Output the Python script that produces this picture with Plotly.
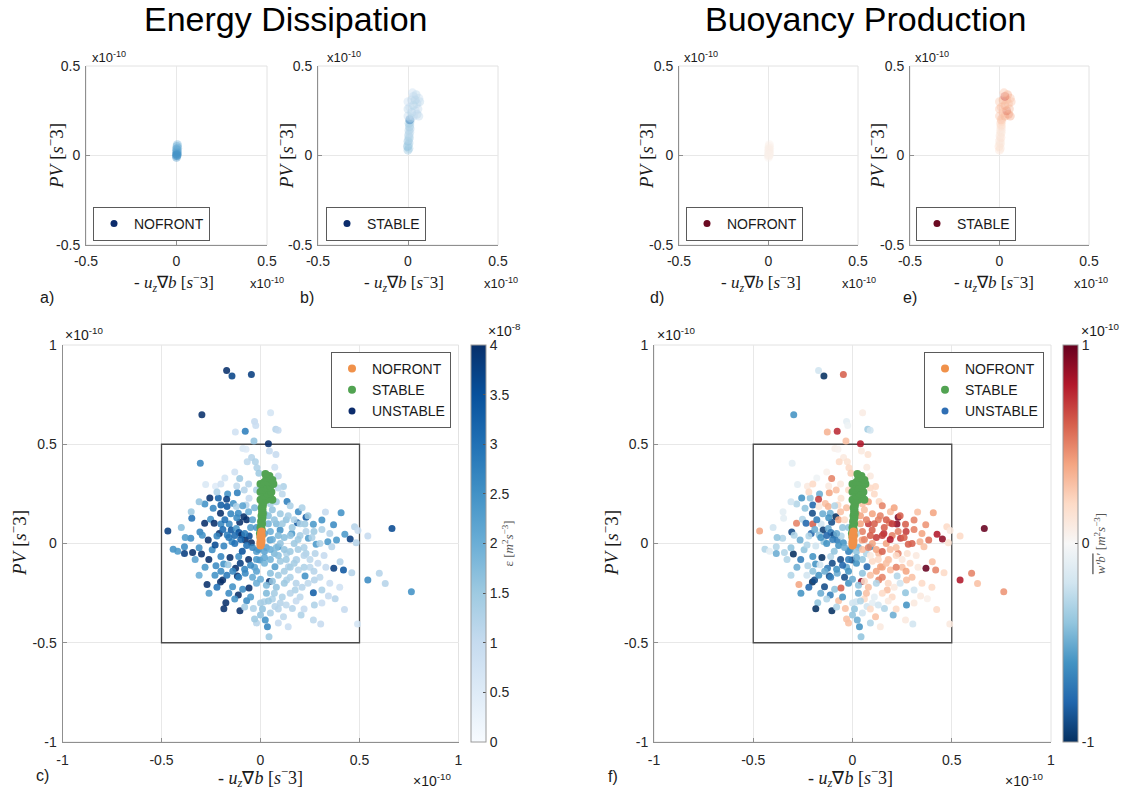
import plotly.graph_objects as go
import plotly.express as px

W, H = 1142, 792
SANS = "Liberation Sans, Arial, sans-serif"
SERIF = "Liberation Serif, Times New Roman, serif"

# ---------------- data (x, y in units of 1e-10 s^-3; eps in 1e-8; wb in 1e-10) -------------
unstable_x = [
    -0.171, -0.144, -0.046, -0.296, 0.051, -0.030, -0.024, 0.077, 0.089, -0.077,
    -0.127, -0.033, 0.040, 0.045, -0.089, -0.073, 0.078, -0.045, -0.067, -0.304,
    -0.026, 0.072, -0.018, -0.008, -0.105, -0.277, -0.227, 0.116, -0.082, -0.166,
    -0.117, -0.256, -0.213, -0.171, -0.281, -0.200, -0.137, -0.058, -0.073, 0.134,
    -0.239, -0.202, -0.169, -0.122, -0.112, -0.084, -0.070, -0.105, -0.347, -0.282,
    -0.252, -0.234, -0.200, -0.158, -0.148, -0.122, -0.109, -0.095, -0.468, -0.306,
    -0.294, -0.352, -0.264, -0.208, -0.220, -0.168, -0.144, -0.077, -0.057, -0.046,
    -0.441, -0.418, -0.384, -0.384, -0.343, -0.298, -0.310, -0.244, -0.229, -0.185,
    -0.154, -0.200, -0.110, -0.092, -0.060, -0.261, -0.225, -0.186, -0.164, -0.126,
    -0.102, -0.077, -0.117, -0.270, -0.202, -0.191, -0.141, -0.090, -0.058, -0.112,
    -0.070, -0.175, -0.185, -0.104, -0.036, 0.018, 0.024, 0.035, 0.043, 0.191,
    0.230, 0.186, 0.224, 0.267, 0.310, 0.328, 0.407, 0.369, 0.475, 0.492,
    0.542, 0.664, 0.426, 0.453, 0.483, 0.340, 0.384, 0.360, 0.281, 0.242,
    0.158, 0.099, 0.048, 0.090, 0.132, 0.183, 0.230, 0.276, 0.321, 0.402,
    0.370, 0.419, 0.461, 0.542, 0.600, 0.630, 0.762, 0.225, 0.272, 0.267,
    0.310, 0.343, 0.377, 0.272, 0.424, 0.490, 0.045, 0.205, 0.267, 0.304,
    0.116, 0.161, 0.073, 0.175, 0.132, 0.073, -0.003, 0.141, 0.191, 0.020,
    0.060, 0.100, 0.080, 0.130, 0.160, 0.050, 0.120, 0.170, 0.030, 0.070,
    0.100, 0.200, 0.220, -0.020, -0.030, 0.020, 0.050, 0.100, 0.150, 0.120,
    0.080, 0.030, -0.020, -0.040, 0.000, 0.060, 0.100, 0.200, 0.180, -0.050,
    0.040, -0.030, 0.080, 0.110, -0.060, 0.090, -0.130, -0.180, -0.200, 0.150,
    -0.080, 0.250, 0.300, 0.270, -0.080, -0.130, -0.050, 0.000, -0.020,
    0.01, 0.04, 0.07, 0.11, 0.14, 0.17, 0.20, 0.23, 0.26, 0.19,
    0.15, 0.09, 0.06, 0.02, -0.02, -0.04, -0.06, -0.09, -0.12, -0.15,
    -0.18, -0.19, -0.16, -0.13, -0.10, -0.07, -0.04, -0.01, 0.02, 0.05,
    0.08, 0.12, 0.15, 0.19, 0.22, 0.25, 0.29, 0.33, 0.30, 0.27,
    0.22, 0.17, 0.13, 0.09, 0.05, 0.02, -0.02, -0.05, -0.08, -0.11,
    -0.14, -0.17, -0.20, -0.23, -0.16, -0.13, -0.02, 0.00, 0.03, 0.06,
    0.09, 0.12, 0.15, 0.18, 0.21, 0.24, 0.15, 0.11, 0.07, 0.04,
    0.01, 0.05, 0.09, 0.13, 0.18, 0.22, 0.09, 0.14, -0.03, 0.35,
    0.31, 0.40, 0.35, 0.31, 0.24, 0.21, 0.05, 0.09, -0.02, -0.12,
    -0.22, -0.31, -0.35, -0.40, -0.38, -0.33, -0.28, -0.31, -0.26, -0.22,
]
unstable_y = [
    0.871, 0.844, 0.851, 0.648, 0.659, 0.614, 0.594, 0.575, 0.570, 0.565,
    0.562, 0.517, 0.502, 0.466, 0.478, 0.475, 0.448, 0.433, 0.412, 0.404,
    0.412, 0.384, 0.381, 0.354, 0.328, 0.297, 0.288, 0.287, 0.270, 0.249,
    0.256, 0.229, 0.229, 0.223, 0.199, 0.194, 0.202, 0.228, 0.194, 0.211,
    0.177, 0.152, 0.186, 0.186, 0.152, 0.135, 0.120, 0.107, 0.127, 0.102,
    0.122, 0.102, 0.098, 0.098, 0.068, 0.076, 0.055, 0.043, 0.063, 0.058,
    0.041, 0.026, 0.018, 0.051, 0.038, 0.043, 0.009, 0.018, 0.038, 0.004,
    -0.029, -0.039, -0.016, -0.050, -0.045, -0.053, -0.021, -0.031, -0.008, -0.013,
    -0.070, -0.066, -0.066, -0.039, -0.080, -0.080, -0.112, -0.103, -0.107, -0.125,
    -0.100, -0.150, -0.164, -0.206, -0.194, -0.184, -0.218, -0.231, -0.224, -0.260,
    -0.288, -0.298, -0.329, -0.339, -0.327, -0.293, -0.386, -0.419, -0.470, 0.160,
    0.132, 0.105, 0.098, 0.097, 0.118, 0.159, 0.155, 0.095, 0.085, 0.065,
    0.038, 0.076, 0.046, 0.023, 0.004, 0.009, 0.018, -0.016, -0.004, 0.026,
    0.051, 0.068, 0.018, -0.016, -0.050, -0.083, -0.050, -0.050, -0.061, -0.092,
    -0.125, -0.134, -0.147, -0.184, -0.150, -0.201, -0.243, -0.164, -0.184, -0.248,
    -0.234, -0.265, -0.278, -0.310, -0.332, -0.406, -0.192, -0.360, -0.386, -0.406,
    -0.369, -0.327, -0.318, -0.234, -0.184, -0.117, -0.083, -0.117, -0.134, 0.150,
    0.170, 0.150, 0.100, 0.120, 0.080, 0.060, 0.030, 0.000, -0.020, -0.050,
    0.000, 0.040, -0.020, -0.040, -0.120, -0.100, -0.150, -0.090, -0.120, -0.200,
    -0.220, -0.250, -0.200, -0.170, -0.300, -0.280, -0.300, -0.270, -0.080, 0.080,
    0.100, 0.180, 0.210, 0.250, 0.300, 0.340, 0.360, 0.330, 0.300, 0.190,
    -0.320, -0.120, 0.000, 0.060, 0.050, 0.000, -0.270, -0.360, -0.400,
    0.12, 0.14, 0.12, 0.10, 0.14, 0.12, 0.10, 0.06, 0.03, 0.02,
    0.04, 0.04, 0.02, 0.05, 0.08, 0.12, 0.16, 0.19, 0.13, 0.15,
    0.12, 0.07, 0.03, 0.04, 0.02, -0.01, -0.02, -0.03, -0.04, -0.03,
    -0.02, -0.03, -0.04, -0.03, -0.06, -0.08, -0.10, -0.12, -0.17, -0.14,
    -0.12, -0.10, -0.08, -0.06, -0.08, -0.07, -0.08, -0.11, -0.13, -0.17,
    -0.14, -0.16, -0.14, -0.16, -0.25, -0.28, -0.14, -0.18, -0.21, -0.19,
    -0.16, -0.14, -0.17, -0.20, -0.22, -0.20, -0.25, -0.27, -0.25, -0.29,
    -0.33, -0.35, -0.33, -0.31, -0.29, -0.33, -0.40, -0.42, -0.38, -0.20,
    -0.30, -0.22, 0.05, 0.07, 0.14, 0.18, 0.20, 0.28, 0.27, 0.29,
    0.26, 0.21, 0.16, 0.08, 0.03, -0.08, -0.12, -0.16, -0.25, -0.22,
]
unstable_eps = [
    4.0, 3.7, 3.8, 4.0, 0.7, 1.0, 0.9, 1.2, 1.0, 2.8,
    0.8, 1.6, 4.0, 1.0, 0.6, 0.5, 1.0, 1.2, 1.1, 2.7,
    1.3, 0.8, 1.3, 1.5, 1.5, 0.6, 0.5, 1.3, 1.2, 2.5,
    2.8, 4.0, 3.2, 3.8, 2.5, 3.3, 2.5, 1.0, 1.2, 2.8,
    2.7, 4.0, 3.4, 1.3, 2.6, 4.0, 4.0, 4.0, 3.0, 4.0,
    2.5, 4.0, 2.7, 2.6, 3.4, 2.4, 3.5, 4.0, 3.8, 2.7,
    2.5, 2.6, 4.0, 4.0, 2.7, 2.8, 2.6, 4.0, 3.6, 4.0,
    2.5, 2.4, 2.6, 3.8, 4.0, 4.0, 2.5, 2.6, 3.6, 2.7,
    4.0, 2.7, 2.5, 3.5, 4.0, 4.0, 2.6, 2.5, 1.5, 4.0,
    3.8, 2.6, 4.0, 4.0, 4.0, 4.0, 2.5, 2.6, 4.0, 4.0,
    2.6, 4.0, 4.0, 4.0, 1.3, 1.3, 2.5, 2.7, 1.5, 2.6,
    3.4, 3.5, 1.5, 2.4, 2.5, 1.0, 2.5, 2.6, 1.2, 1.0,
    1.0, 3.6, 2.4, 3.8, 1.2, 2.4, 2.4, 1.2, 2.4, 2.3,
    2.4, 2.5, 2.4, 2.4, 1.3, 1.2, 1.3, 1.2, 1.0, 1.2,
    3.8, 3.4, 1.2, 2.6, 1.2, 1.2, 2.5, 2.5, 1.2, 3.3,
    1.3, 1.0, 1.2, 1.3, 1.0, 0.7, 4.0, 1.3, 1.1, 1.0,
    1.1, 1.2, 1.2, 1.3, 1.3, 2.3, 2.4, 1.2, 1.2, 1.8,
    1.6, 1.5, 1.8, 1.6, 1.5, 2.0, 1.7, 1.5, 2.2, 1.8,
    1.6, 1.4, 1.3, 2.3, 2.2, 1.9, 1.7, 1.5, 1.4, 1.5,
    1.6, 1.8, 2.0, 2.1, 1.4, 1.3, 1.2, 1.1, 1.2, 2.3,
    1.9, 1.8, 1.4, 1.1, 1.2, 1.0, 0.8, 0.7, 0.8, 1.3,
    1.4, 1.1, 1.3, 1.5, 2.8, 3.0, 2.4, 1.6, 1.2,
    2.0, 1.7, 1.6, 1.5, 1.4, 1.3, 1.4, 1.2, 1.3, 1.5,
    1.6, 1.8, 2.0, 2.3, 2.4, 2.2, 2.0, 2.2, 2.6, 2.7,
    3.0, 3.1, 2.9, 3.1, 3.2, 3.0, 2.7, 2.5, 2.2, 2.0,
    1.8, 1.6, 1.5, 1.4, 1.2, 1.1, 1.0, 1.0, 1.1, 1.2,
    1.3, 1.4, 1.5, 1.7, 1.9, 2.1, 2.4, 2.6, 2.7, 2.8,
    2.7, 2.9, 2.6, 2.5, 2.6, 2.5, 2.2, 2.0, 1.8, 1.6,
    1.5, 1.4, 1.3, 1.2, 1.2, 1.1, 1.2, 1.3, 1.4, 1.5,
    1.6, 1.3, 1.2, 1.1, 1.0, 1.0, 1.0, 0.9, 1.5, 0.9,
    0.9, 0.8, 1.2, 1.3, 1.5, 1.3, 1.4, 1.1, 1.3, 1.1,
    1.3, 1.6, 1.5, 1.7, 2.3, 2.2, 2.4, 2.0, 2.3, 3.0,
]
unstable_wb = [
    -0.2, -1.0, 0.6, -0.6, 0.08, -0.1, -0.05, -0.35, -0.2, 0.75,
    0.35, 0.3, 0.8, 0.1, 0.05, 0.03, 0.15, 0.1, 0.2, -0.1,
    0.15, 0.1, 0.2, 0.25, 0.5, -0.1, 0.1, 0.2, 0.3, -0.5,
    0.4, -0.6, -0.4, 0.7, -0.3, -0.8, 0.3, 0.15, 0.2, 0.2,
    -0.4, -0.9, 0.1, 0.35, -0.5, -1.0, 0.4, -0.9, -0.1, 0.5,
    -0.3, -0.8, 0.6, -0.2, -0.95, -0.5, -0.7, -0.9, 0.4, -0.9,
    -0.3, -0.3, -0.5, -0.8, -0.3, -0.4, -0.4, -0.7, -0.3, -0.6,
    -0.3, -0.1, -0.3, -0.5, -0.3, -1.0, -0.4, -0.4, -0.3, -0.2,
    -1.0, -0.6, -0.3, -0.4, -0.9, -0.7, -0.3, -0.6, -0.2, -0.7,
    -0.9, -0.5, -0.9, 0.4, -1.0, -0.9, -0.9, -0.4, 0.6, -0.7,
    0.3, -0.4, -1.0, -1.0, 0.3, -0.2, -0.5, -0.6, -0.4, 0.3,
    0.95, 0.5, 0.9, 0.6, 0.5, 0.3, 0.4, 0.45, 0.2, 0.1,
    0.2, 1.0, 0.8, 0.9, 0.15, 0.35, 0.55, 0.3, 0.6, 0.7,
    0.75, 0.6, 0.4, -0.6, 0.3, 0.2, 0.5, 0.15, 0.1, 0.3,
    1.0, 0.5, 0.2, 0.8, 0.5, 0.3, 0.45, -0.3, 0.3, -0.4,
    -0.2, 0.1, 0.05, -0.6, 0.2, 0.1, 0.9, -0.5, 0.1, -0.2,
    0.3, -0.3, -0.2, 0.3, 0.5, -0.8, -0.9, 0.4, 0.3, 0.5,
    0.3, 0.4, 0.7, 0.5, 0.6, 0.5, 0.7, 0.4, -0.5, -0.3,
    0.4, 0.5, 0.3, -0.7, -0.5, -0.6, -0.4, 0.2, 0.4, -0.3,
    0.3, -0.5, -0.6, -0.9, -0.2, 0.2, -0.1, 0.2, 0.3, -0.4,
    0.4, 0.3, 0.4, 0.2, 0.1, 0.1, 0.05, -0.05, 0.2, 0.5,
    -0.3, 0.3, 0.6, 0.7, -0.5, -0.6, -0.6, -0.4, 0.3,
    0.3, 0.4, 0.5, 0.6, 0.5, 0.6, 0.7, 0.5, 0.6, 0.8,
    0.7, 0.6, 0.5, -0.3, -0.4, 0.2, 0.3, -0.3, -0.6, -0.5,
    -0.7, -0.5, -0.6, -0.8, -0.7, -0.6, -0.5, -0.6, -0.4, 0.3,
    0.5, 0.4, 0.6, 0.3, 0.2, 0.1, 0.2, 0.1, 0.3, 0.4,
    0.5, 0.3, 0.2, 0.1, -0.4, -0.5, -0.7, -0.8, -0.6, -0.7,
    -0.5, -0.6, -0.4, -0.2, -0.5, -0.3, -0.6, -0.5, -0.4, 0.2,
    0.3, 0.4, 0.5, 0.2, 0.1, -0.2, 0.2, -0.1, 0.3, -0.3,
    -0.4, -0.2, 0.2, -0.2, 0.1, 0.2, -0.3, 0.1, 0.3, 0.2,
    0.1, 0.2, 0.4, 0.5, 0.6, 0.4, 0.3, 0.2, 0.2, 0.1,
    0.2, -0.2, -0.1, -0.2, -0.4, -0.3, -0.5, -0.3, -0.6, -0.8,
]

stable_x = [0.000, 0.005, -0.003, 0.002, 0.006, 0.000, 0.004, 0.008, 0.003, 0.006,
            0.010, 0.005, 0.012, 0.008, 0.010, 0.006, 0.012, 0.010, 0.015, 0.000,
            0.030, 0.050, 0.060, 0.020, 0.040, 0.000, 0.055, 0.010, 0.030, 0.050,
            0.065, 0.000, 0.020, 0.040, 0.060, 0.030, 0.045, 0.025]
stable_y = [0.03, 0.04, 0.05, 0.06, 0.07, 0.08, 0.09, 0.10, 0.11, 0.12,
            0.13, 0.14, 0.15, 0.16, 0.17, 0.18, 0.19, 0.20, 0.21, 0.22,
            0.22, 0.23, 0.22, 0.24, 0.25, 0.26, 0.26, 0.27, 0.28, 0.29,
            0.30, 0.30, 0.31, 0.31, 0.32, 0.33, 0.34, 0.35]
stable_eps = [1.6, 1.5, 1.8, 1.4, 1.3, 1.6, 1.2, 1.4, 1.3, 1.2,
              1.1, 1.3, 1.2, 1.4, 1.2, 1.5, 1.3, 3.0, 1.2, 1.1,
              1.0, 1.2, 1.1, 1.3, 1.0, 1.2, 1.1, 1.0, 1.3, 1.1,
              1.2, 1.0, 1.1, 1.3, 1.0, 1.1, 1.2, 1.0]
stable_wb = [0.15, 0.12, 0.18, 0.1, 0.14, 0.12, 0.1, 0.15, 0.12, 0.1,
             0.14, 0.12, 0.1, 0.15, 0.2, 0.18, 0.22, 0.3, 0.25, 0.3,
             0.35, 0.45, 0.4, 0.3, 0.55, 0.3, 0.35, 0.3, 0.4, 0.32,
             0.3, 0.28, 0.35, 0.3, 0.3, 0.65, 0.4, 0.3]

nofront_x = [0.000, 0.003, 0.000, 0.005, 0.002, 0.004, 0.000, 0.006, 0.003, 0.005,
             0.000, 0.004]
nofront_y = [-0.010, 0.000, 0.010, 0.015, 0.020, 0.030, 0.035, 0.040, 0.050, 0.060,
             0.000, 0.005]
nofront_eps = [2.6, 2.4, 2.7, 2.3, 2.5, 2.2, 2.4, 2.1, 2.2, 2.0, 2.6, 2.5]
nofront_wb = [0.05, 0.06, 0.04, 0.07, 0.05, 0.06, 0.05, 0.08, 0.06, 0.07, 0.05, 0.06]

top_ticks = [-0.5, 0, 0.5]
top_tick_text = ["-0.5", "0", "0.5"]
big_ticks = [-1, -0.5, 0, 0.5, 1]
big_tick_text = ["-1", "-0.5", "0", "0.5", "1"]
eps_ticks = [0, 0.5, 1, 1.5, 2, 2.5, 3, 3.5, 4]
eps_tick_text = ["0", "0.5", "1", "1.5", "2", "2.5", "3", "3.5", "4"]
wb_ticks = [-1, 0, 1]
wb_tick_text = ["-1", "0", "1"]
box_limits = [-0.5, 0.5]

ORANGE = "#f0914a"
GREEN = "#52a352"
NAVY = "#0c2c6c"
DARKRED = "#6b0a22"
UBLUE = "#2f6fb4"

blues = px.colors.sequential.Blues
rdbu_r = px.colors.diverging.RdBu[::-1]


def fx(p):
    return p / W


def fy(p):
    return 1 - p / H


fig = go.Figure()

# axis ids: 1=a, 2=b, 3=d, 4=e, 5=c, 6=f
top_xdom = {1: (86, 267), 2: (318, 498), 3: (679, 858), 4: (910, 1089)}
big_xdom = {5: (62.5, 458.5), 6: (654, 1051)}
top_ydom = (66, 245)
big_ydom = (345, 742)


def ref(i, kind):
    return kind + ("" if i == 1 else str(i))


def axname(i, kind):
    return ref(i, kind + "axis")


common = dict(showgrid=True, gridcolor="#e8e8e8", gridwidth=1, zeroline=False,
              showline=True, linecolor="#8f8f8f", linewidth=1, ticks="inside",
              ticklen=4, tickcolor="#8f8f8f", fixedrange=True, automargin=False,
              tickfont=dict(family=SANS, size=14, color="#262626"))

for i, (l, r) in top_xdom.items():
    fig.layout[axname(i, "x")] = dict(common, domain=[fx(l), fx(r)], range=[-0.5, 0.5],
                                      tickvals=top_ticks, ticktext=top_tick_text,
                                      anchor=ref(i, "y"), ticklabelstandoff=3)
    fig.layout[axname(i, "y")] = dict(common, domain=[fy(top_ydom[1]), fy(top_ydom[0])],
                                      range=[-0.5, 0.5], tickvals=top_ticks,
                                      ticktext=top_tick_text, anchor=ref(i, "x"),
                                      ticklabelstandoff=2)
for i, (l, r) in big_xdom.items():
    fig.layout[axname(i, "x")] = dict(common, domain=[fx(l), fx(r)], range=[-1, 1],
                                      tickvals=big_ticks, ticktext=big_tick_text,
                                      anchor=ref(i, "y"), ticklabelstandoff=5)
    fig.layout[axname(i, "y")] = dict(common, domain=[fy(big_ydom[1]), fy(big_ydom[0])],
                                      range=[-1, 1], tickvals=big_ticks,
                                      ticktext=big_tick_text, anchor=ref(i, "x"),
                                      ticklabelstandoff=2)


# ---- top panels (colored, translucent) ----
def top_trace(i, xs, ys, vals, cax):
    return go.Scatter(x=xs, y=ys, mode="markers", xaxis=ref(i, "x"), yaxis=ref(i, "y"),
                      marker=dict(size=9, color=vals, coloraxis=cax, opacity=0.4,
                                  line=dict(width=0)),
                      showlegend=False, hoverinfo="skip")


fig.add_trace(top_trace(1, nofront_x, nofront_y, nofront_eps, "coloraxis"))
fig.add_trace(top_trace(2, stable_x, stable_y, stable_eps, "coloraxis"))
fig.add_trace(top_trace(3, nofront_x, nofront_y, nofront_wb, "coloraxis2"))
fig.add_trace(top_trace(4, stable_x, stable_y, stable_wb, "coloraxis2"))

# legend-only entries for top panels
for i, name, col, leg in [(1, "NOFRONT", NAVY, "legend"), (2, "STABLE", NAVY, "legend2"),
                          (3, "NOFRONT", DARKRED, "legend3"), (4, "STABLE", DARKRED, "legend4")]:
    fig.add_trace(go.Scatter(x=[None], y=[None], mode="markers", name=name,
                             xaxis=ref(i, "x"), yaxis=ref(i, "y"), legend=leg,
                             marker=dict(size=7, color=col)))

# ---- bottom panels ----
for i, vals, cax, ucol, leg in [(5, unstable_eps, "coloraxis", NAVY, "legend5"),
                                (6, unstable_wb, "coloraxis2", UBLUE, "legend6")]:
    fig.add_trace(go.Scatter(x=unstable_x, y=unstable_y, mode="markers",
                             xaxis=ref(i, "x"), yaxis=ref(i, "y"), showlegend=False,
                             marker=dict(size=7, color=vals, coloraxis=cax, opacity=0.88,
                                         line=dict(width=0)), hoverinfo="skip"))
    fig.add_trace(go.Scatter(x=stable_x, y=stable_y, mode="markers", name="STABLE",
                             xaxis=ref(i, "x"), yaxis=ref(i, "y"), legend=leg, legendrank=2,
                             marker=dict(size=8, color=GREEN, line=dict(width=0))))
    fig.add_trace(go.Scatter(x=nofront_x, y=nofront_y, mode="markers", name="NOFRONT",
                             xaxis=ref(i, "x"), yaxis=ref(i, "y"), legend=leg, legendrank=1,
                             marker=dict(size=8, color=ORANGE, line=dict(width=0))))
    fig.add_trace(go.Scatter(x=[None], y=[None], mode="markers", name="UNSTABLE",
                             xaxis=ref(i, "x"), yaxis=ref(i, "y"), legend=leg, legendrank=3,
                             marker=dict(size=7, color=ucol)))

# black box (-0.5..0.5) and frames
shapes = []
for i in (1, 2, 3, 4, 5, 6):
    shapes.append(dict(type="rect", xref=ref(i, "x") + " domain", yref=ref(i, "y") + " domain",
                       x0=0, x1=1, y0=0, y1=1, line=dict(color="#e2e2e2", width=1),
                       layer="below"))
for i in (5, 6):
    shapes.append(dict(type="rect", xref=ref(i, "x"), yref=ref(i, "y"),
                       x0=box_limits[0], x1=box_limits[1], y0=box_limits[0], y1=box_limits[1],
                       line=dict(color="#4a4a4a", width=1.3), layer="between"))

# legends
leg_common = dict(bgcolor="white", bordercolor="#5a5a5a", borderwidth=1,
                  font=dict(family=SANS, size=14, color="#1a1a1a"), itemclick=False,
                  itemdoubleclick=False, tracegroupgap=0)
legend_pos = {"legend": 93, "legend2": 326, "legend3": 686, "legend4": 916}
for k, lx in legend_pos.items():
    fig.layout[k] = dict(leg_common, x=fx(lx), y=fy(241), xanchor="left", yanchor="bottom")
fig.layout["legend5"] = dict(leg_common, x=fx(451), y=fy(352), xanchor="right", yanchor="top",
                             traceorder="normal")
fig.layout["legend6"] = dict(leg_common, x=fx(1044), y=fy(352), xanchor="right", yanchor="top",
                             traceorder="normal")

# color axes
cb_common = dict(thickness=15, thicknessmode="pixels", len=(big_ydom[1] - big_ydom[0]) / H,
                 lenmode="fraction", y=fy(big_ydom[1]), yanchor="bottom", xanchor="left",
                 xpad=0, ypad=0, outlinewidth=1, outlinecolor="#9a9a9a", ticks="inside",
                 ticklen=3, tickcolor="#555555",
                 tickfont=dict(family=SANS, size=14, color="#262626"))
fig.update_layout(
    coloraxis=dict(colorscale=blues, cmin=0, cmax=4,
                   colorbar=dict(cb_common, x=fx(471), tickvals=eps_ticks, ticktext=eps_tick_text,
                                 title=dict(text="ε [<i>m</i><sup>2</sup><i>s</i><sup>−3</sup>]",
                                            side="right",
                                            font=dict(family=SERIF, size=13, color="#555555")))),
    coloraxis2=dict(colorscale=rdbu_r, cmin=-1, cmax=1,
                    colorbar=dict(cb_common, x=fx(1063), tickvals=wb_ticks, ticktext=wb_tick_text,
                                  title=dict(text="<span style='text-decoration:overline'><i>w'b'</i></span> [<i>m</i><sup>2</sup><i>s</i><sup>−3</sup>]",
                                             side="right",
                                             font=dict(family=SERIF, size=13, color="#555555")))),
)

# annotations
ann = []


def txt(px_, py_, text, size=14, xanchor="center", yanchor="middle", family=SANS,
        angle=0, color="#1a1a1a"):
    ann.append(dict(x=fx(px_), y=fy(py_), xref="paper", yref="paper", text=text,
                    showarrow=False, xanchor=xanchor, yanchor=yanchor, textangle=angle,
                    font=dict(family=family, size=size, color=color)))


txt(285, 19, "Energy Dissipation", size=34, color="black")
txt(865, 19, "Buoyancy Production", size=34, color="black")

ylab = "<i>PV</i> [<i>s</i><sup>−</sup>3]"
xlab = "- <i>u<sub>z</sub></i>∇<i>b</i> [<i>s</i><sup>−</sup>3]"
for yx in (55, 285, 645, 876):
    txt(yx, 156, ylab, size=19, family=SERIF, angle=-90)
for xx in (174, 404, 761, 994):
    txt(xx, 282, xlab, size=17, family=SERIF)
for lx in (90, 325, 682, 913):
    txt(lx, 57, "x10<sup>-10</sup>", size=13, xanchor="left")
for lx in (248, 482, 840, 1072):
    txt(lx, 283, "x10<sup>-10</sup>", size=13, xanchor="left")

txt(18, 543, ylab, size=19, family=SERIF, angle=-90)
txt(610, 543, ylab, size=19, family=SERIF, angle=-90)
txt(260, 777, xlab, size=18, family=SERIF)
txt(850, 777, xlab, size=18, family=SERIF)
txt(63, 334, "×10<sup>-10</sup>", size=14, xanchor="left")
txt(655, 334, "×10<sup>-10</sup>", size=14, xanchor="left")
txt(411, 780, "×10<sup>-10</sup>", size=14, xanchor="left")
txt(1003, 780, "×10<sup>-10</sup>", size=14, xanchor="left")
txt(486, 330, "×10<sup>-8</sup>", size=14, xanchor="left")
txt(1079, 330, "×10<sup>-10</sup>", size=14, xanchor="left")

for lbl, lx, ly in [("a)", 47, 297), ("b)", 307, 297), ("d)", 657, 297), ("e)", 910, 297),
                    ("c)", 42, 775), ("f)", 613, 776)]:
    txt(lx, ly, lbl, size=16)

fig.update_layout(width=W, height=H, autosize=False,
                  margin=dict(l=0, r=0, t=0, b=0, pad=0),
                  paper_bgcolor="white", plot_bgcolor="white",
                  shapes=shapes, annotations=ann, hovermode=False)

fig.write_html("out.html", config={"responsive": False, "displayModeBar": False},
               post_script="document.body.style.margin='0';document.body.style.overflow='hidden';")
